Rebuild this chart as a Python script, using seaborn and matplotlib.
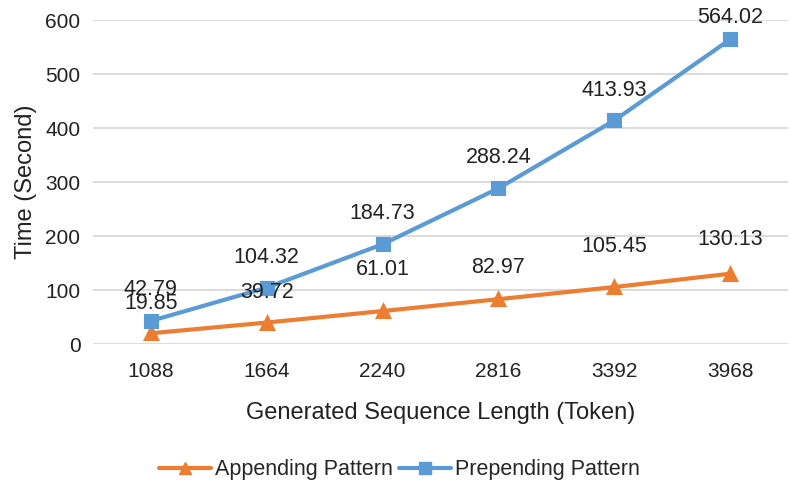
import matplotlib
matplotlib.use("Agg")
import matplotlib.pyplot as plt
from matplotlib.lines import Line2D
import seaborn as sns
import pandas as pd

lengths = ["1088", "1664", "2240", "2816", "3392", "3968"]
appending = [19.85, 39.72, 61.01, 82.97, 105.45, 130.13]
prepending = [42.79, 104.32, 184.73, 288.24, 413.93, 564.02]
series_names = ["Appending Pattern", "Prepending Pattern"]
colors = ["#ED7D31", "#5B9BD5"]
markers = ["^", "s"]
# label offsets above each point (pixels)
label_off_app = [30, 30, 42, 32, 41, 34]
label_off_pre = [31, 30, 31, 31, 30, 22]

sns.set_theme(style="white")
plt.rcParams["font.family"] = ["Liberation Sans", "DejaVu Sans"]

df = pd.DataFrame({
    "length": lengths * 2,
    "time": appending + prepending,
    "pattern": [series_names[0]] * len(lengths) + [series_names[1]] * len(lengths),
})

fig = plt.figure(figsize=(7.91, 4.80), dpi=100)
ax = fig.add_axes([93 / 791, 136 / 480, 695 / 791, 324 / 480])

sns.pointplot(data=df, x="length", y="time", hue="pattern", order=lengths,
              hue_order=series_names, palette=colors, markers=markers,
              linestyles=["-", "-"], ax=ax, legend=False,
              markersize=9, linewidth=3)

ax.set_xlim(-0.5, len(lengths) - 0.5)
ax.set_ylim(0, 600)
ax.set_yticks(range(0, 601, 100))
ax.grid(axis="y", color="#D9D9D9", linewidth=1.3)
ax.grid(axis="x", visible=False)
ax.set_axisbelow(True)
for s in ax.spines.values():
    s.set_visible(False)
ax.tick_params(axis="both", length=0, labelsize=15, colors="#222222")
ax.tick_params(axis="x", pad=13)
ax.tick_params(axis="y", pad=9)
ax.set_xlabel("Generated Sequence Length (Token)", fontsize=17, color="#222222", labelpad=15)
ax.set_ylabel("Time (Second)", fontsize=17, color="#222222", labelpad=6)

# data labels
for vals, offs in ((appending, label_off_app), (prepending, label_off_pre)):
    for i, (v, o) in enumerate(zip(vals, offs)):
        ax.annotate(f"{v:.2f}", (i, v), xytext=(0, o * 0.72), textcoords="offset points",
                    ha="center", va="center", fontsize=15.5, color="#222222")

handles = [Line2D([], [], color=c, marker=m, markersize=9, linewidth=3)
           for c, m in zip(colors, markers)]
fig.legend(handles, series_names, loc="center", bbox_to_anchor=(0.505, 10 / 480),
           ncol=2, frameon=False, fontsize=15.5, handlelength=2.4, columnspacing=0.3,
           handletextpad=0.2)

fig.savefig("out.png", dpi=100)
